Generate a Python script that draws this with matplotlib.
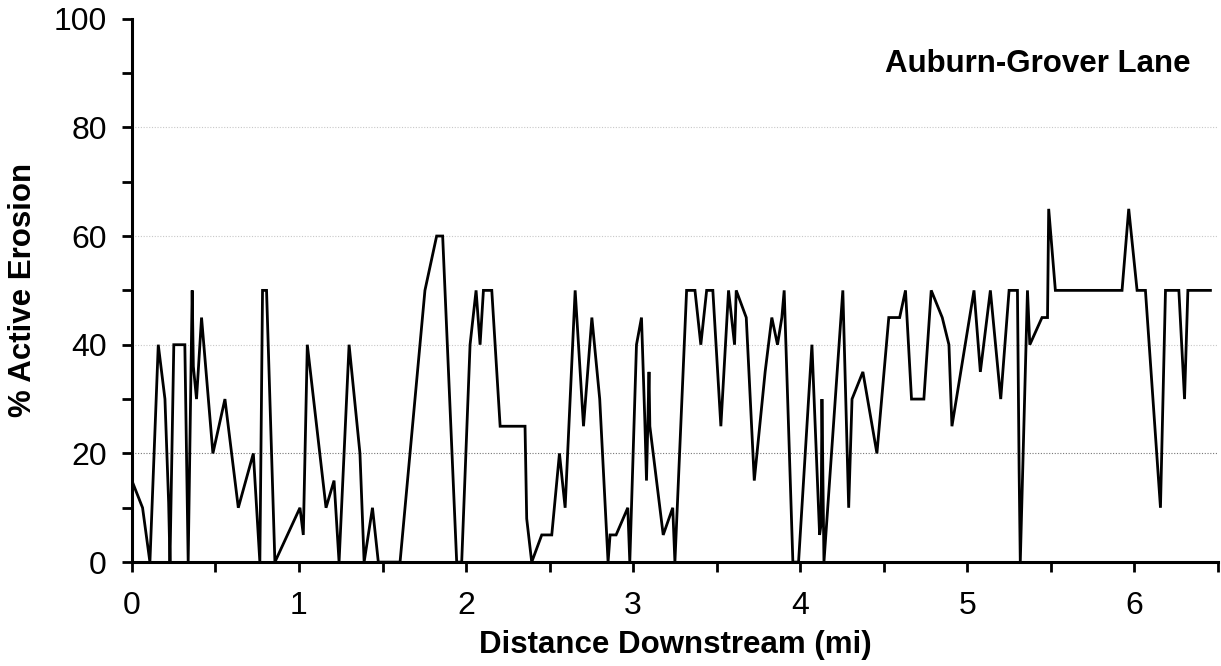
import matplotlib
matplotlib.use("Agg")
import matplotlib.pyplot as plt
from matplotlib.ticker import MultipleLocator

# stream survey: distance downstream (mi) vs. percent of bank in active erosion
distance_mi = [
    0.000, 0.064, 0.108, 0.158, 0.198, 0.220, 0.228, 0.251, 0.317, 0.337,
    0.361, 0.368, 0.387, 0.417, 0.485, 0.557, 0.637, 0.727, 0.766, 0.782,
    0.806, 0.856, 1.006, 1.026, 1.050, 1.162, 1.210, 1.240, 1.300, 1.365,
    1.390, 1.440, 1.475, 1.605, 1.754, 1.824, 1.860, 1.944, 1.974, 2.024,
    2.060, 2.084, 2.104, 2.154, 2.204, 2.353, 2.363, 2.393, 2.453, 2.513,
    2.559, 2.593, 2.653, 2.703, 2.753, 2.800, 2.850, 2.862, 2.898, 2.968,
    2.980, 3.020, 3.050, 3.070, 3.080, 3.095, 3.100, 3.180, 3.237, 3.250,
    3.320, 3.370, 3.405, 3.440, 3.477, 3.525, 3.571, 3.607, 3.617, 3.677,
    3.725, 3.790, 3.830, 3.864, 3.890, 3.904, 3.956, 3.990, 4.070, 4.116,
    4.125, 4.130, 4.142, 4.255, 4.290, 4.310, 4.375, 4.459, 4.530, 4.595,
    4.630, 4.666, 4.740, 4.784, 4.850, 4.890, 4.908, 5.040, 5.078, 5.138,
    5.200, 5.250, 5.300, 5.310, 5.317, 5.360, 5.374, 5.447, 5.480, 5.487,
    5.527, 5.926, 5.966, 6.016, 6.066, 6.156, 6.186, 6.266, 6.300, 6.320,
    6.455,
]
active_erosion_pct = [
    15, 10, 0, 40, 30, 11, 0, 40, 40, 0,
    50, 36, 30, 45, 20, 30, 10, 20, 0, 50,
    50, 0, 10, 5, 40, 10, 15, 0, 40, 20,
    0, 10, 0, 0, 50, 60, 60, 0, 0, 40,
    50, 40, 50, 50, 25, 25, 8, 0, 5, 5,
    20, 10, 50, 25, 45, 30, 0, 5, 5, 10,
    0, 40, 45, 26, 15, 35, 25, 5, 10, 0,
    50, 50, 40, 50, 50, 25, 50, 40, 50, 45,
    15, 35, 45, 40, 45, 50, 0, 0, 40, 5,
    7, 30, 0, 50, 10, 30, 35, 20, 45, 45,
    50, 30, 30, 50, 45, 40, 25, 50, 35, 50,
    30, 50, 50, 17, 0, 50, 40, 45, 45, 65,
    50, 50, 65, 50, 50, 10, 50, 50, 30, 50,
    50,
]

site_name = "Auburn-Grover Lane"

plt.rcParams["font.family"] = ["Liberation Sans", "DejaVu Sans"]

fig = plt.figure(figsize=(12.21, 6.66), dpi=100)
ax = fig.add_axes([0.108, 0.156, 0.8895, 0.816])

# light dotted reference lines
for level, shade in [(20, "#777777"), (40, "#c8c8c8"), (60, "#c8c8c8"), (80, "#c8c8c8")]:
    ax.axhline(level, color=shade, lw=0.8, ls=(0, (1, 1.5)), zorder=1)

ax.plot(distance_mi, active_erosion_pct, color="black", lw=2.0,
        solid_joinstyle="miter", zorder=3)

ax.set_xlim(0, 6.5)
ax.set_ylim(0, 100)
ax.xaxis.set_major_locator(MultipleLocator(1))
ax.xaxis.set_minor_locator(MultipleLocator(0.5))
ax.yaxis.set_major_locator(MultipleLocator(20))
ax.yaxis.set_minor_locator(MultipleLocator(10))

for side in ["top", "right"]:
    ax.spines[side].set_visible(False)
for side in ["left", "bottom"]:
    ax.spines[side].set_linewidth(2.2)
    ax.spines[side].set_color("black")

ax.tick_params(which="both", direction="out", length=7, width=2.0, color="black")
ax.tick_params(which="major", labelsize=23)
ax.tick_params(axis="x", which="major", pad=14)
ax.tick_params(axis="y", which="major", pad=11)

ax.set_xlabel("Distance Downstream (mi)", fontsize=22.5, fontweight="bold", labelpad=6)
ax.set_ylabel("% Active Erosion", fontsize=22.5, fontweight="bold", labelpad=11)

ax.text(0.975, 0.945, site_name, transform=ax.transAxes, ha="right", va="top",
        fontsize=22.5, fontweight="bold")

fig.savefig("out.png", dpi=100)
